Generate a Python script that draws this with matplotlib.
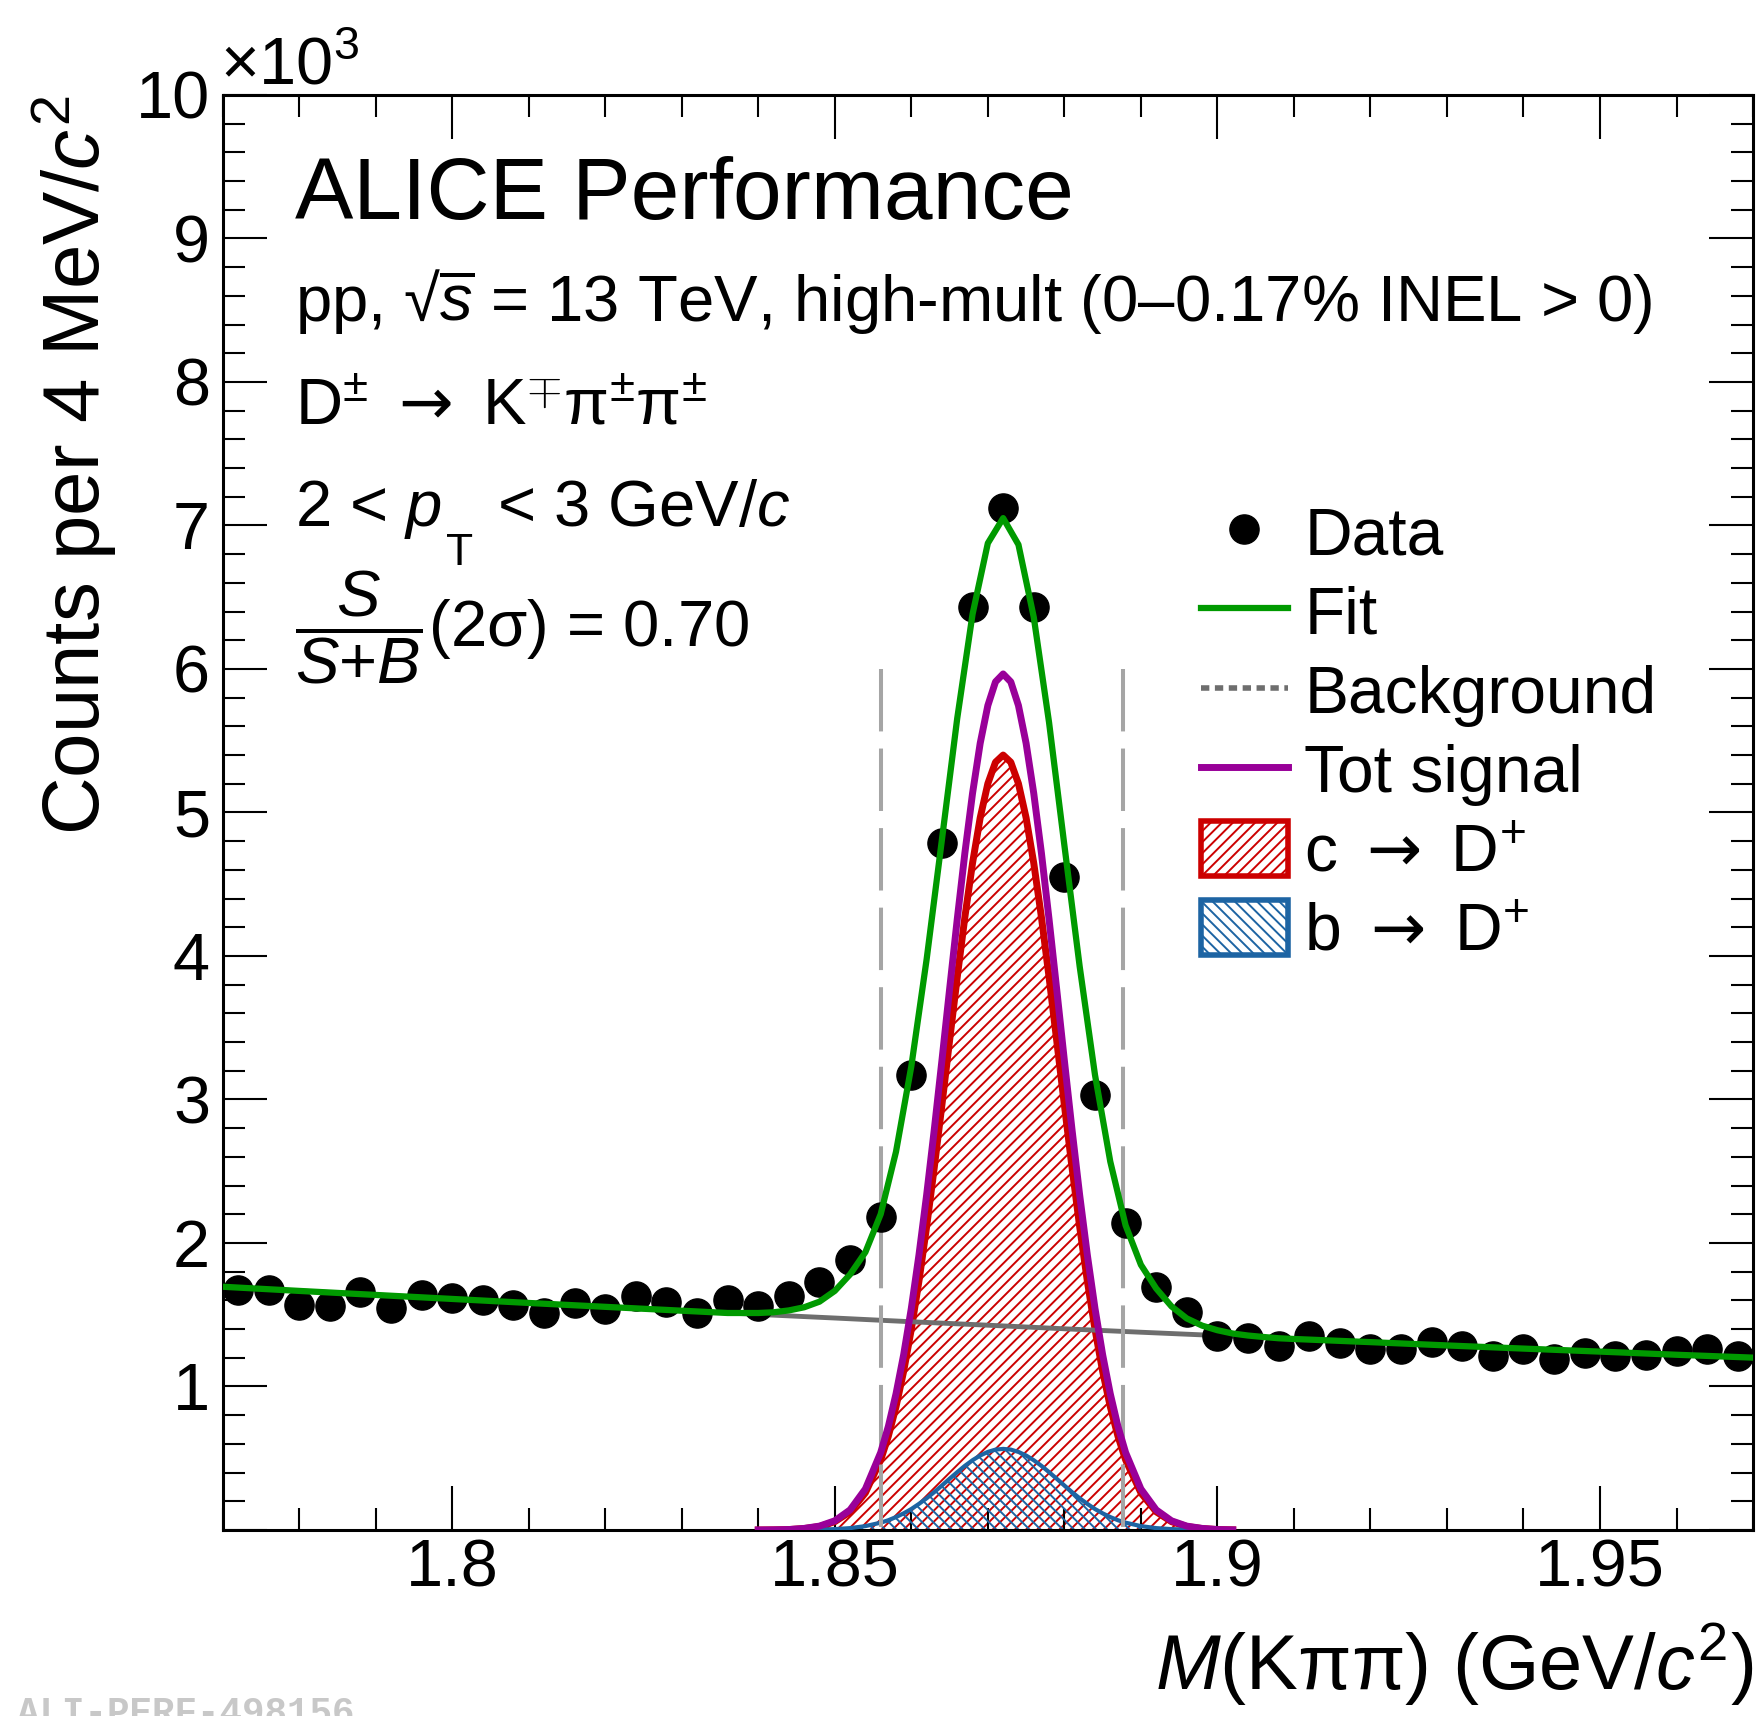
import numpy as np
import matplotlib
matplotlib.use('Agg')
import matplotlib.pyplot as plt
from matplotlib.lines import Line2D
from matplotlib.patches import Patch
from matplotlib.ticker import MultipleLocator

plt.rcParams['font.family'] = ['Liberation Sans', 'DejaVu Sans']
plt.rcParams['mathtext.fontset'] = 'custom'
plt.rcParams['mathtext.rm'] = 'Liberation Sans'
plt.rcParams['mathtext.it'] = 'Liberation Sans:italic'
plt.rcParams['mathtext.bf'] = 'Liberation Sans:bold'
plt.rcParams['mathtext.sf'] = 'DejaVu Sans'
plt.rcParams['hatch.linewidth'] = 1.4

# invariant-mass bins (GeV/c^2) and counts (x10^3)
mass = [1.772, 1.776, 1.780, 1.784, 1.788, 1.792, 1.796, 1.800, 1.804, 1.808,
        1.812, 1.816, 1.820, 1.824, 1.828, 1.832, 1.836, 1.840, 1.844, 1.848,
        1.852, 1.856, 1.860, 1.864, 1.868, 1.872, 1.876, 1.880, 1.884, 1.888,
        1.892, 1.896, 1.900, 1.904, 1.908, 1.912, 1.916, 1.920, 1.924, 1.928,
        1.932, 1.936, 1.940, 1.944, 1.948, 1.952, 1.956, 1.960, 1.964, 1.968]
counts = [1.67, 1.67, 1.57, 1.56, 1.66, 1.55, 1.64, 1.62, 1.605, 1.57,
          1.51, 1.58, 1.54, 1.63, 1.59, 1.51, 1.60, 1.56, 1.63, 1.73,
          1.88, 2.18, 3.17, 4.79, 6.43, 7.12, 6.43, 4.55, 3.03, 2.14,
          1.69, 1.52, 1.35, 1.34, 1.28, 1.35, 1.30, 1.26, 1.26, 1.31,
          1.28, 1.21, 1.26, 1.19, 1.23, 1.21, 1.22, 1.25, 1.26, 1.21]

# background function (grey)
bkg_x = [1.77, 1.78, 1.79, 1.80, 1.81, 1.82, 1.83, 1.84, 1.85, 1.86, 1.87,
         1.88, 1.89, 1.90, 1.91, 1.92, 1.93, 1.94, 1.95, 1.96, 1.97]
bkg_y = [1.695, 1.666, 1.638, 1.610, 1.582, 1.555, 1.528, 1.502, 1.477, 1.451, 1.427,
         1.402, 1.378, 1.355, 1.331, 1.309, 1.286, 1.264, 1.243, 1.221, 1.201]

# total fit (green)
fit_x = [1.77, 1.78, 1.79, 1.80, 1.81, 1.82, 1.83,
         1.836, 1.838, 1.840, 1.842, 1.844, 1.846, 1.848, 1.850, 1.852, 1.854,
         1.856, 1.858, 1.860, 1.862, 1.864, 1.866, 1.868, 1.870, 1.872, 1.874,
         1.876, 1.878, 1.880, 1.882, 1.884, 1.886, 1.888, 1.890, 1.892, 1.894,
         1.896, 1.898, 1.900, 1.902, 1.904, 1.906, 1.908, 1.910,
         1.92, 1.93, 1.94, 1.95, 1.96, 1.97]
fit_y = [1.695, 1.666, 1.638, 1.610, 1.582, 1.555, 1.528,
         1.512, 1.512, 1.512, 1.517, 1.530, 1.552, 1.591, 1.666, 1.781, 1.936,
         2.201, 2.636, 3.231, 3.976, 4.811, 5.656, 6.381, 6.876, 7.051, 6.866,
         6.361, 5.627, 4.772, 3.927, 3.172, 2.567, 2.123, 1.848, 1.683, 1.558,
         1.474, 1.424, 1.392, 1.369, 1.355, 1.345, 1.336, 1.331,
         1.309, 1.286, 1.264, 1.243, 1.221, 1.201]

# signal templates: c -> D+, b -> D+ and their sum
sig_x = [1.840, 1.842, 1.844, 1.846, 1.848, 1.850, 1.852, 1.854, 1.856,
         1.857, 1.858, 1.859, 1.860, 1.861, 1.862, 1.863, 1.864, 1.865, 1.866,
         1.867, 1.868, 1.869, 1.870, 1.871, 1.872, 1.873, 1.874, 1.875, 1.876,
         1.877, 1.878, 1.879, 1.880, 1.881, 1.882, 1.883, 1.884, 1.885, 1.886,
         1.887, 1.888, 1.890, 1.892, 1.894, 1.896, 1.898, 1.900, 1.902]
prompt_c = [0.0, 0.001, 0.003, 0.010, 0.024, 0.058, 0.127, 0.259, 0.489,
            0.654, 0.859, 1.106, 1.399, 1.735, 2.113, 2.526, 2.962, 3.410, 3.852,
            4.271, 4.647, 4.963, 5.201, 5.350, 5.400, 5.350, 5.201, 4.963, 4.647,
            4.271, 3.852, 3.410, 2.962, 2.526, 2.113, 1.735, 1.399, 1.106, 0.859,
            0.654, 0.489, 0.259, 0.127, 0.058, 0.024, 0.010, 0.003, 0.001]
feed_b = [0.0, 0.0, 0.0, 0.001, 0.003, 0.006, 0.013, 0.027, 0.051,
          0.068, 0.090, 0.116, 0.146, 0.182, 0.221, 0.264, 0.310, 0.357, 0.403,
          0.447, 0.486, 0.519, 0.544, 0.560, 0.565, 0.560, 0.544, 0.519, 0.486,
          0.447, 0.403, 0.357, 0.310, 0.264, 0.221, 0.182, 0.146, 0.116, 0.090,
          0.068, 0.051, 0.027, 0.013, 0.006, 0.003, 0.001, 0.0, 0.0]
tot_sig = [0.0, 0.001, 0.003, 0.011, 0.027, 0.064, 0.140, 0.286, 0.540,
           0.722, 0.949, 1.222, 1.545, 1.917, 2.334, 2.790, 3.272, 3.767, 4.255,
           4.718, 5.133, 5.482, 5.745, 5.910, 5.965, 5.910, 5.745, 5.482, 5.133,
           4.718, 4.255, 3.767, 3.272, 2.790, 2.334, 1.917, 1.545, 1.222, 0.949,
           0.722, 0.540, 0.286, 0.140, 0.064, 0.027, 0.011, 0.003, 0.001]

# +-2 sigma window
window = [1.856, 1.8876]
window_top = 6.0

green = '#009a00'
purple = '#990099'
red = '#cc0000'
blue = '#1d64a3'
grey = '#6e6e6e'

fig = plt.figure(figsize=(17.64, 17.16), dpi=100)
ax = fig.add_axes([0.1262, 0.1084, 0.8676, 0.8363])

ax.fill_between(sig_x, 0, prompt_c, facecolor='none', edgecolor=red, hatch='///', linewidth=0, zorder=1)
ax.fill_between(sig_x, 0, feed_b, facecolor='none', edgecolor=blue, hatch='\\\\\\', linewidth=0, zorder=2)
ax.plot(sig_x, prompt_c, color=red, lw=5, zorder=3)
ax.plot(sig_x, feed_b, color=blue, lw=3, zorder=3)
ax.plot(bkg_x, bkg_y, color=grey, lw=3.5, zorder=4)
for xw in window:
    ax.plot([xw, xw], [window_top, 0], color='#a5a5a5', lw=2.9, dashes=(15.5, 4.25), zorder=5)
ax.plot(sig_x, tot_sig, color=purple, lw=5, zorder=6)
ax.plot(mass, counts, 'o', color='black', markersize=21, zorder=7)
ax.plot(fit_x, fit_y, color=green, lw=4.5, zorder=8)

ax.set_xlim(1.77, 1.97)
ax.set_ylim(0, 10)
ax.set_xticks([1.8, 1.85, 1.9, 1.95])
ax.set_xticklabels(['1.8', '1.85', '1.9', '1.95'])
ax.set_yticks(range(0, 11))
ax.set_yticklabels([''] + [str(i) for i in range(1, 11)])
ax.xaxis.set_minor_locator(MultipleLocator(0.01))
ax.yaxis.set_minor_locator(MultipleLocator(0.2))
ax.tick_params(which='both', direction='in', top=True, right=True, width=1.5, labelsize=48)
ax.tick_params(which='major', length=31.7)
ax.tick_params(which='minor', length=15.8)
ax.tick_params(axis='x', pad=6)
ax.tick_params(axis='y', pad=9)
for s in ax.spines.values():
    s.set_linewidth(2.2)

ax.set_ylabel(r'Counts per 4 MeV/$c^{2}$', loc='top', fontsize=57.5, labelpad=12)
ax.set_xlabel(r'$M$(Kππ) (GeV/$c^{2}$)', loc='right', fontsize=56, labelpad=15)

fig.text(0.125, 0.9505, r'×10$^{3}$', fontsize=48, va='baseline')

tx = 0.1672
fs = 47
fig.text(tx, 0.8724, 'ALICE Performance', fontsize=63, va='baseline')
fig.text(tx, 0.8132, r'pp, √$\overline{s}$ = 13 TeV, high-mult (0–0.17% INEL > 0)', fontsize=fs, va='baseline')
fig.text(tx, 0.7523, r'D$^{\pm}$ $\mathsf{\rightarrow}$ K$^{\mp}\mathrm{\pi}^{\pm}\mathrm{\pi}^{\pm}$', fontsize=fs, va='baseline')

# p_T with a ROOT-like low subscript
y4 = 0.6932
t4a = fig.text(tx, y4, r'2 < $p$', fontsize=fs, va='baseline')
t4b = ax.annotate('T', xy=(1, 0), xycoords=t4a, xytext=(3, -17), textcoords='offset points',
                  fontsize=32, va='baseline', annotation_clip=False)
ax.annotate(r' < 3 GeV/$c$', xy=(1, y4), xycoords=(t4b, 'figure fraction'),
            xytext=(4, 0), textcoords='offset points',
            fontsize=fs, va='baseline', annotation_clip=False)

fig.text(tx, 0.6230, r'$\dfrac{S}{S{+}B}$(2σ) = 0.70', fontsize=fs, va='baseline')

handles = [
    Line2D([], [], ls='none', marker='o', color='black', markersize=21),
    Line2D([], [], color=green, lw=4.5),
    Line2D([], [], color=grey, lw=4, ls=(0, (1.5, 1))),
    Line2D([], [], color=purple, lw=5),
    Patch(facecolor='white', edgecolor=red, hatch='///', linewidth=4),
    Patch(facecolor='white', edgecolor=blue, hatch='\\\\\\', linewidth=4),
]
labels = ['Data', 'Fit', 'Background', 'Tot signal',
          r'c $\mathsf{\rightarrow}$ D$^{+}$', r'b $\mathsf{\rightarrow}$ D$^{+}$']
ax.legend(handles, labels, loc='upper left', bbox_to_anchor=(0.639, 0.715), frameon=False,
          fontsize=47.5, handlelength=1.32, handleheight=0.9, handletextpad=0.25,
          labelspacing=0.23, borderpad=0, borderaxespad=0)

fig.text(0.0096, -0.0047, 'ALI-PERF-498156', family='Liberation Mono', weight='bold',
         color='#c8c8c8', fontsize=27, va='baseline')

fig.savefig('out.png', dpi=100)
